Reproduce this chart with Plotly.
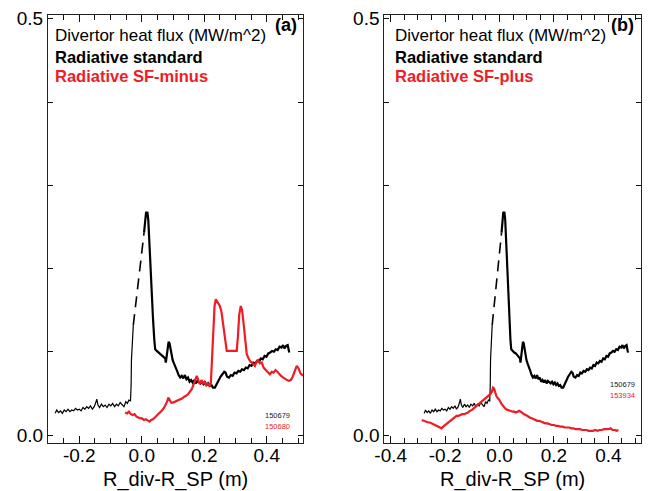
import plotly.graph_objects as go

W, H = 649, 491
FONT = "Liberation Sans, Arial, Helvetica, sans-serif"
RED = "#EE1C25"

# ---------------- data ----------------
# shot 150679 (radiative standard): outer part (thin), then main part after the gap (thick)
std_edge = [(-0.277, 0.026), (-0.272, 0.030), (-0.266, 0.027), (-0.260, 0.029), (-0.254, 0.026),
            (-0.248, 0.030), (-0.242, 0.028), (-0.236, 0.031), (-0.230, 0.028), (-0.224, 0.030),
            (-0.218, 0.029), (-0.212, 0.032), (-0.206, 0.030), (-0.200, 0.031), (-0.194, 0.029),
            (-0.188, 0.033), (-0.182, 0.031), (-0.176, 0.034), (-0.170, 0.032), (-0.164, 0.035),
            (-0.158, 0.031), (-0.152, 0.034), (-0.147, 0.039), (-0.144, 0.043), (-0.140, 0.036),
            (-0.135, 0.033), (-0.129, 0.037), (-0.123, 0.034), (-0.117, 0.036), (-0.111, 0.033),
            (-0.105, 0.037), (-0.099, 0.035), (-0.093, 0.038), (-0.087, 0.034), (-0.081, 0.037),
            (-0.075, 0.035), (-0.069, 0.039), (-0.063, 0.036), (-0.057, 0.034), (-0.051, 0.040),
            (-0.046, 0.038), (-0.041, 0.042), (-0.036, 0.041), (-0.034, 0.060), (-0.033, 0.090),
            (-0.027, 0.132)]
std_main = [(0.0074, 0.243), (0.011, 0.258), (0.014, 0.268), (0.016, 0.266), (0.018, 0.268),
            (0.021, 0.258), (0.026, 0.215), (0.031, 0.175), (0.036, 0.140), (0.040, 0.115),
            (0.043, 0.103), (0.048, 0.101), (0.054, 0.099), (0.060, 0.098), (0.066, 0.096),
            (0.072, 0.094), (0.075, 0.092), (0.077, 0.087), (0.080, 0.095), (0.083, 0.106),
            (0.086, 0.112), (0.089, 0.110), (0.092, 0.103), (0.095, 0.096), (0.099, 0.090),
            (0.103, 0.086), (0.108, 0.080), (0.113, 0.077), (0.118, 0.072), (0.123, 0.069),
            (0.128, 0.071), (0.133, 0.068), (0.138, 0.072), (0.143, 0.067), (0.148, 0.069),
            (0.153, 0.064), (0.158, 0.066), (0.163, 0.063), (0.168, 0.066), (0.173, 0.062),
            (0.178, 0.065), (0.183, 0.063), (0.188, 0.062), (0.193, 0.064), (0.198, 0.061),
            (0.203, 0.063), (0.208, 0.060), (0.213, 0.062), (0.218, 0.059), (0.223, 0.060),
            (0.228, 0.057), (0.234, 0.057), (0.240, 0.062), (0.246, 0.066), (0.252, 0.070),
            (0.258, 0.073), (0.264, 0.076), (0.268, 0.075), (0.273, 0.070), (0.279, 0.069),
            (0.285, 0.072), (0.291, 0.071), (0.297, 0.075), (0.303, 0.074), (0.309, 0.077),
            (0.315, 0.076), (0.321, 0.079), (0.327, 0.078), (0.333, 0.081), (0.339, 0.080),
            (0.345, 0.084), (0.351, 0.083), (0.357, 0.087), (0.363, 0.086), (0.369, 0.089),
            (0.375, 0.088), (0.381, 0.092), (0.387, 0.091), (0.393, 0.095), (0.399, 0.094),
            (0.405, 0.098), (0.411, 0.099), (0.417, 0.101), (0.423, 0.100), (0.429, 0.103),
            (0.435, 0.102), (0.441, 0.106), (0.447, 0.105), (0.452, 0.108), (0.457, 0.104),
            (0.462, 0.107), (0.467, 0.108), (0.470, 0.104), (0.472, 0.099)]

# shot 150680 (radiative SF-minus)
sfminus = [(-0.053, 0.027), (-0.047, 0.026), (-0.041, 0.028), (-0.035, 0.025), (-0.029, 0.024),
           (-0.023, 0.025), (-0.017, 0.022), (-0.011, 0.021), (-0.005, 0.020), (0.001, 0.020),
           (0.007, 0.018), (0.013, 0.019), (0.019, 0.017), (0.025, 0.016), (0.030, 0.018),
           (0.036, 0.019), (0.042, 0.021), (0.048, 0.023), (0.054, 0.025), (0.060, 0.027),
           (0.066, 0.030), (0.072, 0.033), (0.077, 0.036), (0.081, 0.040), (0.085, 0.045),
           (0.089, 0.043), (0.094, 0.039), (0.100, 0.039), (0.106, 0.040), (0.112, 0.041),
           (0.118, 0.042), (0.124, 0.043), (0.130, 0.044), (0.136, 0.046), (0.142, 0.047),
           (0.148, 0.049), (0.154, 0.052), (0.160, 0.055), (0.165, 0.060), (0.170, 0.066),
           (0.176, 0.071), (0.181, 0.066), (0.186, 0.061), (0.191, 0.066), (0.196, 0.062),
           (0.201, 0.064), (0.206, 0.060), (0.211, 0.062), (0.216, 0.059), (0.221, 0.061),
           (0.225, 0.090), (0.229, 0.130), (0.233, 0.155), (0.237, 0.163), (0.241, 0.160),
           (0.246, 0.158), (0.250, 0.155), (0.255, 0.148), (0.259, 0.138), (0.263, 0.128),
           (0.267, 0.112), (0.272, 0.101), (0.280, 0.101), (0.288, 0.101), (0.296, 0.101),
           (0.304, 0.101), (0.308, 0.120), (0.312, 0.145), (0.317, 0.155), (0.321, 0.150),
           (0.325, 0.137), (0.330, 0.115), (0.336, 0.097), (0.342, 0.092), (0.348, 0.088),
           (0.353, 0.087), (0.357, 0.085), (0.362, 0.083), (0.367, 0.088), (0.372, 0.090),
           (0.378, 0.086), (0.384, 0.087), (0.390, 0.081), (0.396, 0.079), (0.402, 0.076),
           (0.410, 0.073), (0.416, 0.076), (0.422, 0.075), (0.428, 0.078), (0.434, 0.076),
           (0.440, 0.073), (0.446, 0.071), (0.453, 0.069), (0.459, 0.067), (0.465, 0.066),
           (0.471, 0.065), (0.477, 0.066), (0.483, 0.070), (0.489, 0.077), (0.496, 0.083),
           (0.502, 0.080), (0.508, 0.074), (0.514, 0.072), (0.520, 0.071)]

# shot 153934 (radiative SF-plus)
sfplus = [(-0.286, 0.018), (-0.280, 0.017), (-0.274, 0.016), (-0.268, 0.016), (-0.262, 0.015),
          (-0.256, 0.015), (-0.250, 0.014), (-0.244, 0.013), (-0.238, 0.012), (-0.232, 0.011),
          (-0.226, 0.010), (-0.220, 0.009), (-0.213, 0.008), (-0.207, 0.010), (-0.200, 0.012),
          (-0.193, 0.014), (-0.186, 0.016), (-0.179, 0.018), (-0.172, 0.020), (-0.165, 0.021),
          (-0.158, 0.023), (-0.151, 0.023), (-0.144, 0.024), (-0.137, 0.025), (-0.130, 0.025),
          (-0.123, 0.026), (-0.116, 0.027), (-0.109, 0.029), (-0.102, 0.030), (-0.095, 0.032),
          (-0.088, 0.034), (-0.081, 0.036), (-0.074, 0.038), (-0.067, 0.040), (-0.060, 0.042),
          (-0.053, 0.043), (-0.046, 0.045), (-0.040, 0.047), (-0.034, 0.049), (-0.028, 0.052),
          (-0.024, 0.057), (-0.020, 0.056), (-0.016, 0.051), (-0.012, 0.047), (-0.006, 0.044),
          (0.000, 0.042), (0.006, 0.038), (0.012, 0.035), (0.018, 0.033), (0.024, 0.031),
          (0.030, 0.030), (0.036, 0.029), (0.042, 0.029), (0.048, 0.028), (0.054, 0.028),
          (0.060, 0.027), (0.066, 0.028), (0.072, 0.029), (0.078, 0.028), (0.084, 0.026),
          (0.090, 0.025), (0.097, 0.024), (0.104, 0.022), (0.111, 0.021), (0.118, 0.020),
          (0.125, 0.019), (0.132, 0.018), (0.139, 0.017), (0.146, 0.017), (0.153, 0.016),
          (0.160, 0.015), (0.168, 0.014), (0.176, 0.014), (0.184, 0.013), (0.192, 0.012),
          (0.200, 0.012), (0.208, 0.011), (0.216, 0.011), (0.224, 0.010), (0.232, 0.010),
          (0.240, 0.009), (0.248, 0.009), (0.256, 0.009), (0.264, 0.008), (0.272, 0.008),
          (0.280, 0.007), (0.288, 0.007), (0.296, 0.007), (0.304, 0.006), (0.312, 0.006),
          (0.320, 0.006), (0.328, 0.005), (0.336, 0.005), (0.344, 0.005), (0.352, 0.006),
          (0.360, 0.005), (0.368, 0.006), (0.376, 0.006), (0.384, 0.007), (0.392, 0.007),
          (0.400, 0.007), (0.408, 0.008), (0.416, 0.006), (0.424, 0.006), (0.430, 0.005),
          (0.437, 0.006)]

x_ticks_a = [-0.2, 0.0, 0.2, 0.4]
x_ticks_b = [-0.4, -0.2, 0.0, 0.2, 0.4]
y_ticks = [0.0, 0.1, 0.2, 0.3, 0.4, 0.5]
y_ticklabels = ["0.0", "", "", "", "", "0.5"]

panel_labels = ["(a)", "(b)"]
title_line = "Divertor heat flux (MW/m^2)"
std_label = "Radiative standard"
other_labels = ["Radiative SF-minus", "Radiative SF-plus"]
shot_std = "150679"
shot_other = ["150680", "153934"]
x_title = "R_div-R_SP (m)"


def xs(pts):
    return [p[0] for p in pts]


def ys(pts):
    return [p[1] for p in pts]


fig = go.Figure()

for i, (xa, ya) in enumerate([("x", "y"), ("x2", "y2")]):
    fig.add_trace(go.Scatter(x=xs(std_edge), y=ys(std_edge), mode="lines",
                             line=dict(color="black", width=1.2), xaxis=xa, yaxis=ya,
                             showlegend=False))
    fig.add_trace(go.Scatter(x=[std_edge[-1][0], std_main[0][0]],
                             y=[std_edge[-1][1], std_main[0][1]], mode="lines",
                             line=dict(color="black", width=1.6, dash="11px,7px"),
                             xaxis=xa, yaxis=ya, showlegend=False))
    other = sfminus if i == 0 else sfplus
    order = [("std", std_main), ("oth", other)] if i == 0 else [("oth", other), ("std", std_main)]
    for kind, pts in order:
        fig.add_trace(go.Scatter(x=xs(pts), y=ys(pts), mode="lines",
                                 line=dict(color="black" if kind == "std" else RED, width=2.2),
                                 xaxis=xa, yaxis=ya, showlegend=False))


def px(v):
    return v / W


def py(v):
    return 1 - v / H


ydom = [py(443), py(15)]
axis_common = dict(showline=True, linecolor="#222", linewidth=1, mirror="ticks",
                   ticks="inside", tickcolor="#111", tickwidth=1.2, showgrid=False,
                   zeroline=False, automargin=False,
                   tickfont=dict(family=FONT, size=19, color="black"))

ycommon = dict(axis_common, ticklen=5, tickmode="array", tickvals=y_ticks,
               ticktext=y_ticklabels, range=[-0.0096, 0.5045])
minor_x = dict(ticks="inside", ticklen=5, dtick=0.05, tick0=0, tickcolor="#111",
               tickwidth=1.2, showgrid=False)

xr_a = [-0.300, 0.516]
xr_b = [-0.4235, 0.520]
dom_a = [px(48), px(303)]
dom_b = [px(384.3), px(641)]

fig.update_layout(
    template="none",
    width=W, height=H, margin=dict(l=0, r=0, t=0, b=0, autoexpand=False),
    paper_bgcolor="white", plot_bgcolor="white",
    font=dict(family=FONT, color="black"),
    xaxis=dict(axis_common, ticklen=7, domain=dom_a, range=xr_a, anchor="y",
               tickmode="array", tickvals=x_ticks_a, ticklabelstandoff=-5,
               ticktext=[f"{v:.1f}" for v in x_ticks_a], minor=minor_x),
    yaxis=dict(ycommon, domain=ydom, anchor="x"),
    xaxis2=dict(axis_common, ticklen=7, domain=dom_b, range=xr_b, anchor="y2",
                tickmode="array", tickvals=x_ticks_b, ticklabelstandoff=-5,
                ticktext=[f"{v:.1f}" for v in x_ticks_b], minor=minor_x),
    yaxis2=dict(ycommon, domain=ydom, anchor="x2"),
)

ann = []
panels = [dict(left=54, right=297.7, shot_x=291, shot_y=(415.7, 426.7), dom=dom_a),
          dict(left=394.3, right=635, shot_x=636, shot_y=(384, 395), dom=dom_b)]
for i, p in enumerate(panels):
    ann.append(dict(x=(p["dom"][0] + p["dom"][1]) / 2, y=py(479), xref="paper", yref="paper",
                    text=x_title, showarrow=False, xanchor="center", yanchor="middle",
                    borderpad=0, font=dict(family=FONT, size=20, color="black")))
    ann.append(dict(x=px(p["left"]), y=py(35.5), xref="paper", yref="paper", text=title_line,
                    showarrow=False, xanchor="left", yanchor="middle", borderpad=0,
                    font=dict(family=FONT, size=17, color="black")))
    ann.append(dict(x=px(p["left"]), y=py(57), xref="paper", yref="paper",
                    text=f"<b>{std_label}</b>", showarrow=False, xanchor="left",
                    yanchor="middle", borderpad=0, font=dict(family=FONT, size=16.5, color="black")))
    ann.append(dict(x=px(p["left"]), y=py(75.5), xref="paper", yref="paper",
                    text=f"<b>{other_labels[i]}</b>", showarrow=False, xanchor="left",
                    yanchor="middle", borderpad=0, font=dict(family=FONT, size=16.5, color=RED)))
    ann.append(dict(x=px(p["right"]), y=py(25.5), xref="paper", yref="paper",
                    text=f"<b>{panel_labels[i]}</b>", showarrow=False, xanchor="right",
                    yanchor="middle", borderpad=0, font=dict(family=FONT, size=18, color="black")))
    ann.append(dict(x=px(p["shot_x"]), y=py(p["shot_y"][0]), xref="paper", yref="paper",
                    text=shot_std, showarrow=False, xanchor="right", yanchor="middle",
                    borderpad=0, font=dict(family=FONT, size=7.5, color="#222")))
    ann.append(dict(x=px(p["shot_x"]), y=py(p["shot_y"][1]), xref="paper", yref="paper",
                    text=shot_other[i], showarrow=False, xanchor="right", yanchor="middle",
                    borderpad=0, font=dict(family=FONT, size=7.5, color=RED)))

fig.update_layout(annotations=ann)
fig.write_html("out.html")
